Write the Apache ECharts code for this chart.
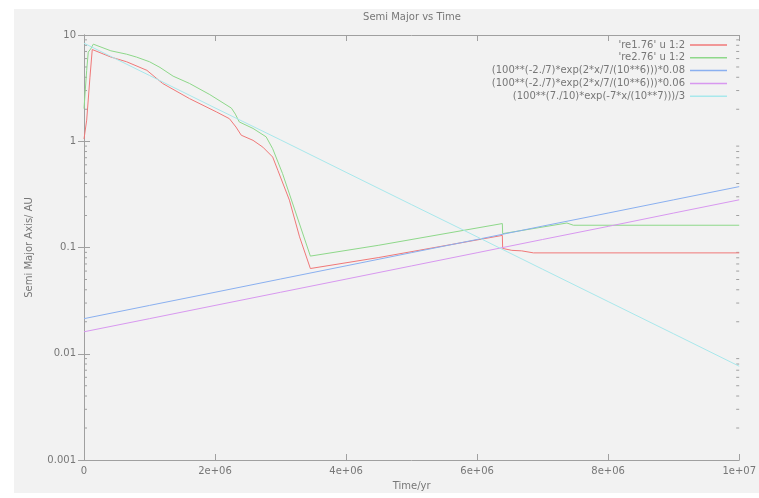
<!DOCTYPE html>
<html><head><meta charset="utf-8">
<script src="https://cdn.jsdelivr.net/npm/echarts@6/dist/echarts.min.js"></script>
<style>html,body{margin:0;padding:0;background:#fff}#c{width:759px;height:498px}</style>
</head><body><div id="c"></div>
<script>
// Data (x in years)
const re1X = [0, 0.041e6, 0.091e6, 0.126e6, 0.41e6, 0.65e6, 0.96e6, 1.2e6, 1.61e6, 2.02e6, 2.22e6, 2.32e6, 2.40e6, 2.58e6, 2.73e6, 2.88e6, 2.96e6, 3.135e6, 3.29e6, 3.455e6, 4.5e6, 6.385e6, 6.39e6, 6.53e6, 6.68e6, 6.86e6, 1e7];
const re1Y = [1.05, 1.58, 4.0, 7.3, 6.2, 5.6, 4.65, 3.5, 2.52, 1.89, 1.63, 1.36, 1.14, 1.02, 0.88, 0.71, 0.53, 0.279, 0.126, 0.0634, 0.0805, 0.130, 0.098, 0.094, 0.093, 0.089, 0.089];
const re2X = [0, 0.041e6, 0.065e6, 0.102e6, 0.142e6, 0.41e6, 0.65e6, 0.8e6, 1.0e6, 1.16e6, 1.36e6, 1.61e6, 1.92e6, 2.25e6, 2.31e6, 2.37e6, 2.58e6, 2.78e6, 2.88e6, 3.03e6, 3.455e6, 4.5e6, 6.385e6, 6.39e6, 7.37e6, 7.47e6, 1e7];
const re2Y = [2.03, 4.65, 6.9, 7.4, 8.2, 7.1, 6.6, 6.2, 5.6, 4.95, 4.1, 3.5, 2.75, 2.05, 1.8, 1.52, 1.32, 1.10, 0.85, 0.497, 0.083, 0.105, 0.168, 0.135, 0.17, 0.162, 0.162];
const fnX = [0, 1e6, 2e6, 3e6, 4e6, 5e6, 6e6, 7e6, 8e6, 9e6, 1e7];
const blueY = [0.0214, 0.0285, 0.0379, 0.0505, 0.0672, 0.0895, 0.119, 0.159, 0.211, 0.281, 0.374];
const pinkY = [0.0161, 0.0214, 0.0285, 0.0379, 0.0504, 0.0671, 0.0893, 0.119, 0.158, 0.211, 0.281];
const cyanY = [8.37, 4.16, 2.06, 1.03, 0.510, 0.253, 0.126, 0.0624, 0.0310, 0.0154, 0.00763];
const names = ["'re1.76' u 1:2", "'re2.76' u 1:2", "(100**(-2./7)*exp(2*x/7/(10**6)))*0.08", "(100**(-2./7)*exp(2*x/7/(10**6)))*0.06", "(100**(7./10)*exp(-7*x/(10**7)))/3"];
const colors = ['#f07878', '#8ed88a', '#8ab0f0', '#d898f0', '#a8e8ec'];
const xTickLabels = {0: '0', 2000000: '2e+06', 4000000: '4e+06', 6000000: '6e+06', 8000000: '8e+06', 10000000: '1e+07'};
const yTickLabels = {0.001: '0.001', 0.01: '0.01', 0.1: '0.1', 1: '1', 10: '10'};
const minorY = [];
[0.001, 0.01, 0.1, 1].forEach(d => { for (let k = 2; k <= 9; k++) minorY.push(+(d * k).toPrecision(3)); });

const pair = (xs, ys) => xs.map((x, i) => [x, ys[i]]);
const font = 'DejaVu Sans';
const txt = '#777';
const axisCol = '#a0a0a0';
const fs = 10;

const chart = echarts.init(document.getElementById('c'), null, {renderer: 'canvas'});
const lineSeries = (name, data, color) => ({
  name, type: 'line', data, symbol: 'none', showSymbol: false,
  lineStyle: {color, width: 1}, itemStyle: {color}, animation: false, z: 3
});
const legends = names.map((n, i) => ({
  data: [n], right: 32, top: 40 + i * 12.8, orient: 'vertical', align: 'right',
  icon: 'rect', itemWidth: 37, itemHeight: 1.5, padding: 0, itemGap: 0,
  textStyle: {color: txt, fontFamily: font, fontSize: fs}
}));
chart.setOption({
  backgroundColor: '#f2f2f2',
  animation: false,
  textStyle: {fontFamily: font},
  title: {text: 'Semi Major vs Time', left: 412, top: 12, textAlign: 'center', padding: 0,
    textStyle: {color: txt, fontFamily: font, fontSize: fs, fontWeight: 'normal'}},
  legend: legends,
  grid: {left: 84, right: 19, top: 35, bottom: 38, containLabel: false},
  xAxis: [{
    type: 'value', min: 0, max: 1e7, interval: 2e6, position: 'bottom',
    name: 'Time/yr', nameLocation: 'middle', nameGap: 21,
    nameTextStyle: {color: txt, fontFamily: font, fontSize: fs},
    axisLine: {show: true, lineStyle: {color: axisCol}},
    axisTick: {show: true, inside: true, length: 6, lineStyle: {color: axisCol}},
    axisLabel: {color: txt, fontFamily: font, fontSize: fs, margin: 6, formatter: v => xTickLabels[v] ?? ''},
    splitLine: {show: false}
  }, {
    type: 'value', min: 0, max: 1e7, interval: 2e6, position: 'top',
    axisLine: {show: true, lineStyle: {color: axisCol}},
    axisTick: {show: true, inside: true, length: 6, lineStyle: {color: axisCol}},
    axisLabel: {show: false}, splitLine: {show: false}
  }],
  yAxis: [{
    type: 'log', logBase: 10, min: 0.001, max: 10, position: 'left',
    name: 'Semi Major Axis/ AU', nameLocation: 'middle', nameGap: 50,
    nameTextStyle: {color: txt, fontFamily: font, fontSize: fs},
    axisLine: {show: true, lineStyle: {color: axisCol}},
    axisTick: {show: true, inside: true, length: 6, lineStyle: {color: axisCol}},
    axisLabel: {color: txt, fontFamily: font, fontSize: fs, margin: 8, formatter: v => yTickLabels[+v.toPrecision(3)] ?? String(v)},
    splitLine: {show: false}, minorTick: {show: false}
  }, {
    type: 'log', logBase: 10, min: 0.001, max: 10, position: 'right',
    axisLine: {show: true, lineStyle: {color: axisCol}},
    axisTick: {show: true, inside: true, length: 6, lineStyle: {color: axisCol}},
    axisLabel: {show: false}, splitLine: {show: false}
  }],
  series: [
    lineSeries(names[0], pair(re1X, re1Y), colors[0]),
    lineSeries(names[1], pair(re2X, re2Y), colors[1]),
    lineSeries(names[2], pair(fnX, blueY), colors[2]),
    lineSeries(names[3], pair(fnX, pinkY), colors[3]),
    lineSeries(names[4], pair(fnX, cyanY), colors[4]),
    {
      type: 'custom', name: 'minorTicks', silent: true, clip: false, z: 2,
      data: minorY.map(v => [0, v]),
      encode: {x: 0, y: 1},
      renderItem: (params, api) => {
        const v = api.value(1);
        const pl = api.coord([0, v]);
        const pr = api.coord([1e7, v]);
        return {type: 'group', children: [
          {type: 'line', shape: {x1: pl[0], y1: pl[1], x2: pl[0] + 3, y2: pl[1]}, style: {stroke: axisCol, lineWidth: 1}},
          {type: 'line', shape: {x1: pr[0], y1: pr[1], x2: pr[0] - 3, y2: pr[1]}, style: {stroke: axisCol, lineWidth: 1}}
        ]};
      }
    }
  ],
  graphic: [
    {type: 'rect', left: 0, top: 0, shape: {width: 14, height: 498}, style: {fill: '#fff'}, z: -1, silent: true},
    {type: 'rect', left: 0, top: 0, shape: {width: 759, height: 9}, style: {fill: '#fff'}, z: -1, silent: true},
    {type: 'rect', left: 0, top: 493, shape: {width: 759, height: 5}, style: {fill: '#fff'}, z: -1, silent: true}
  ]
});
</script>
</body></html>
